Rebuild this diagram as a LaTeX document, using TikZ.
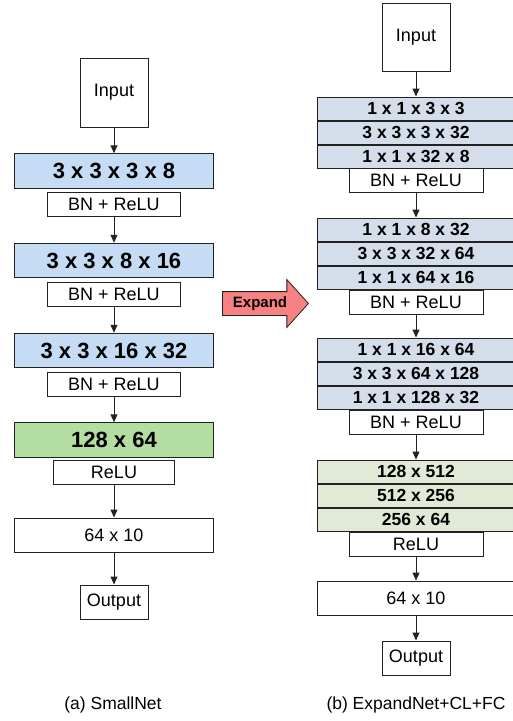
\documentclass[tikz,border=0pt]{standalone}
\usepackage{fontspec}
\setmainfont{Liberation Sans}
\usetikzlibrary{arrows.meta,shapes.arrows}
\definecolor{blueL}{HTML}{C6DCF5}
\definecolor{greenL}{HTML}{B4DDA2}
\definecolor{blueR}{HTML}{D4DEEA}
\definecolor{greenR}{HTML}{E1EAD7}
\definecolor{redA}{HTML}{F88282}
\definecolor{edge}{HTML}{222222}
\begin{document}
\begin{tikzpicture}[x=1pt,y=-1pt,
  box/.style={draw=edge,line width=1pt,rectangle,inner sep=0pt,align=center,font=\fontsize{18}{20}\selectfont},
  bigblk/.style={box,minimum width=199pt,minimum height=34.5pt,font=\fontsize{22}{24}\selectfont\bfseries},
  rowblk/.style={box,minimum width=198pt,minimum height=23pt,font=\fontsize{17.5}{19}\selectfont\bfseries},
  actbox/.style={box,minimum width=133pt,minimum height=24pt},
  termbox/.style={box,minimum width=68pt},
  fcbox/.style={box,minimum width=199pt,minimum height=34pt},
  captext/.style={font=\fontsize{17.5}{19}\selectfont,inner sep=0pt},
  arr/.style={draw=edge,line width=1pt,-{Triangle[length=8pt,width=7pt]}}
]
\useasboundingbox (0,0) rectangle (513,721);
% ---------- left column: SmallNet ----------
\node[termbox,minimum height=69pt] (inL) at (114,92.5) {Input};
\node[bigblk,fill=blueL] (b1) at (114,171) {3 x 3 x 3 x 8};
\node[actbox] (bn1) at (114,204) {BN + ReLU};
\node[bigblk,fill=blueL] (b2) at (114,260.5) {3 x 3 x 8 x 16};
\node[actbox] (bn2) at (114,294) {BN + ReLU};
\node[bigblk,fill=blueL] (b3) at (114,350.5) {3 x 3 x 16 x 32};
\node[actbox] (bn3) at (114,384) {BN + ReLU};
\node[bigblk,fill=greenL] (b4) at (114,440) {128 x 64};
\node[box,minimum width=121pt,minimum height=23.5pt] (reluL) at (114,472.5) {ReLU};
\node[fcbox] (fcL) at (114,535) {64 x 10};
\node[termbox,minimum height=34pt] (outL) at (114,602) {Output};
\node[captext] (capL) at (113,705) {(a) SmallNet};
\draw[arr] (inL.south) -- (b1.north);
\draw[arr] (bn1.south) -- (b2.north);
\draw[arr] (bn2.south) -- (b3.north);
\draw[arr] (bn3.south) -- (b4.north);
\draw[arr] (reluL.south) -- (fcL.north);
\draw[arr] (fcL.south) -- (outL.north);
% ---------- right column: ExpandNet+CL+FC ----------
\node[termbox,minimum height=68pt] (inR) at (416,37) {Input};
\node[rowblk,fill=blueR] (r11) at (416,108.5) {1 x 1 x 3 x 3};
\node[rowblk,fill=blueR,anchor=north] (r12) at (r11.south) {3 x 3 x 3 x 32};
\node[rowblk,fill=blueR,anchor=north] (r13) at (r12.south) {1 x 1 x 32 x 8};
\node[actbox,minimum width=134pt] (bnR1) at (416,180.5) {BN + ReLU};
\node[rowblk,fill=blueR] (r21) at (416,229.5) {1 x 1 x 8 x 32};
\node[rowblk,fill=blueR,anchor=north] (r22) at (r21.south) {3 x 3 x 32 x 64};
\node[rowblk,fill=blueR,anchor=north] (r23) at (r22.south) {1 x 1 x 64 x 16};
\node[actbox,minimum width=134pt] (bnR2) at (416,302) {BN + ReLU};
\node[rowblk,fill=blueR] (r31) at (416,349.5) {1 x 1 x 16 x 64};
\node[rowblk,fill=blueR,anchor=north] (r32) at (r31.south) {3 x 3 x 64 x 128};
\node[rowblk,fill=blueR,anchor=north] (r33) at (r32.south) {1 x 1 x 128 x 32};
\node[actbox,minimum width=134pt] (bnR3) at (416,422.5) {BN + ReLU};
\node[rowblk,fill=greenR] (r41) at (416,471.5) {128 x 512};
\node[rowblk,fill=greenR,anchor=north] (r42) at (r41.south) {512 x 256};
\node[rowblk,fill=greenR,anchor=north] (r43) at (r42.south) {256 x 64};
\node[actbox,minimum width=134pt] (reluR) at (416,544) {ReLU};
\node[fcbox,minimum width=198pt] (fcR) at (416,598) {64 x 10};
\node[termbox,minimum height=34pt] (outR) at (416,658) {Output};
\node[captext] (capR) at (416,705) {(b) ExpandNet+CL+FC};
\draw[arr] (inR.south) -- (r11.north);
\draw[arr] (bnR1.south) -- (r21.north);
\draw[arr] (bnR2.south) -- (r31.north);
\draw[arr] (bnR3.south) -- (r41.north);
\draw[arr] (reluR.south) -- (fcR.north);
\draw[arr] (fcR.south) -- (outR.north);
% ---------- expand arrow ----------
\node[single arrow,draw=edge,line width=0.8pt,fill=redA,anchor=tail,
      minimum height=86pt,inner xsep=2pt,inner ysep=4.5pt,text height=11pt,text depth=3pt,
      single arrow head extend=12pt,single arrow tip angle=96,
      font=\fontsize{15}{16}\selectfont\bfseries] (expand) at (222,303.5) {Expand};
\end{tikzpicture}
\end{document}
